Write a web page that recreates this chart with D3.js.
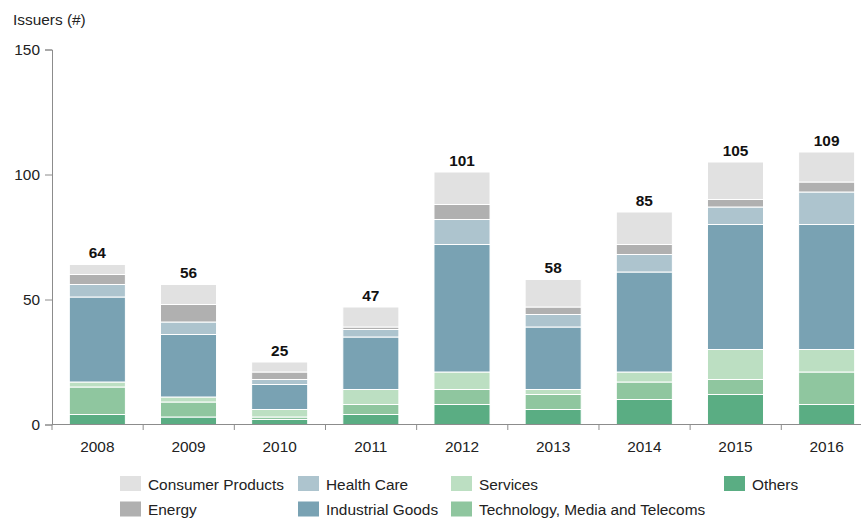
<!DOCTYPE html>
<html>
<head>
<meta charset="utf-8">
<script src="https://cdn.jsdelivr.net/npm/d3@7"></script>
<style>
  body { margin: 0; background: #fff; }
  svg { display: block; font-family: "Liberation Sans", Arial, sans-serif; }
</style>
</head>
<body>
<svg id="chart" width="861" height="522"></svg>
<script>
const years = ["2008","2009","2010","2011","2012","2013","2014","2015","2016"];
// stacked bottom -> top
const seriesNames = ["Others","Technology, Media and Telecoms","Services","Industrial Goods","Health Care","Energy","Consumer Products"];
const others     = [4, 3, 2, 4, 8, 6, 10, 12, 8];
const tmt        = [11, 6, 1, 4, 6, 6, 7, 6, 13];
const services   = [2, 2, 3, 6, 7, 2, 4, 12, 9];
const industrial = [34, 25, 10, 21, 51, 25, 40, 50, 50];
const healthCare = [5, 5, 2, 3, 10, 5, 7, 7, 13];
const energy     = [4, 7, 3, 1, 6, 3, 4, 3, 4];
const consumer   = [4, 8, 4, 8, 13, 11, 13, 15, 12];
const totals     = [64, 56, 25, 47, 101, 58, 85, 105, 109];
const yTicks     = [0, 50, 100, 150];
const colors = {
  "Consumer Products": "#e1e1e1",
  "Energy": "#b0b0b0",
  "Health Care": "#adc4ce",
  "Industrial Goods": "#79a2b3",
  "Services": "#bcdfc2",
  "Technology, Media and Telecoms": "#8fc69f",
  "Others": "#5aad83"
};
const seriesValues = [others, tmt, services, industrial, healthCare, energy, consumer];

const rows = years.map((y, i) => {
  const r = { year: y };
  seriesNames.forEach((s, k) => r[s] = seriesValues[k][i]);
  return r;
});

const FS = 15.4;
const svg = d3.select("#chart");
const x = d3.scaleBand().domain(years).range([52, 872]).paddingInner(0.385).paddingOuter(0.19);
const y = d3.scaleLinear().domain([0, 150]).range([424.5, 49.5]);
const axisColor = "#8c8c8c";

const stack = d3.stack().keys(seriesNames)(rows);

// bars
svg.append("g").selectAll("g").data(stack).join("g")
  .attr("fill", d => colors[d.key])
  .selectAll("rect").data(d => d).join("rect")
  .attr("x", d => x(d.data.year))
  .attr("width", x.bandwidth())
  .attr("y", d => y(d[1]))
  .attr("height", d => y(d[0]) - y(d[1]))
  .attr("stroke", "#fff")
  .attr("stroke-width", 1);

// total labels
svg.append("g").selectAll("text").data(years).join("text")
  .attr("x", d => x(d) + x.bandwidth() / 2)
  .attr("y", (d, i) => y(totals[i]) - 6.5)
  .attr("text-anchor", "middle")
  .attr("font-size", FS)
  .attr("font-weight", "bold")
  .attr("fill", "#111")
  .text((d, i) => totals[i]);

// y axis
const yAxis = svg.append("g").attr("transform", "translate(52,0)")
  .call(d3.axisLeft(y).tickValues(yTicks).tickSize(7).tickPadding(5));
yAxis.select(".domain").attr("stroke", axisColor);
yAxis.selectAll(".tick line").attr("stroke", axisColor);
yAxis.selectAll(".tick text").attr("font-size", FS).attr("fill", "#222")
  .attr("font-family", "Liberation Sans, Arial, sans-serif");

// x axis
const xAxis = svg.append("g").attr("transform", "translate(0,424.5)")
  .call(d3.axisBottom(x).tickSize(0).tickPadding(17));
xAxis.select(".domain").attr("stroke", axisColor).attr("d", "M52,0H872");
xAxis.selectAll(".tick text").attr("font-size", FS).attr("fill", "#222")
  .attr("font-family", "Liberation Sans, Arial, sans-serif");
// tick marks at band boundaries
const step = x.step();
svg.append("g").selectAll("line").data(years.map((yr, i) => 52 + i * step)).join("line")
  .attr("x1", d => d).attr("x2", d => d)
  .attr("y1", 424.5).attr("y2", 430)
  .attr("stroke", axisColor);

// y label
svg.append("text").attr("x", 13).attr("y", 25)
  .attr("font-size", FS).attr("fill", "#222").text("Issuers (#)");

// legend
const legendItems = [
  { name: "Consumer Products", col: 0, row: 0 },
  { name: "Health Care", col: 1, row: 0 },
  { name: "Services", col: 2, row: 0 },
  { name: "Others", col: 3, row: 0 },
  { name: "Energy", col: 0, row: 1 },
  { name: "Industrial Goods", col: 1, row: 1 },
  { name: "Technology, Media and Telecoms", col: 2, row: 1 }
];
const colX = [120, 298, 451, 724];
const rowY = [476, 501.5];
const lg = svg.append("g").selectAll("g").data(legendItems).join("g")
  .attr("transform", d => `translate(${colX[d.col]},${rowY[d.row]})`);
lg.append("rect").attr("width", 21).attr("height", 15).attr("fill", d => colors[d.name]);
lg.append("text").attr("x", 28).attr("y", 13.5).attr("font-size", FS).attr("fill", "#222")
  .text(d => d.name);
</script>
</body>
</html>
